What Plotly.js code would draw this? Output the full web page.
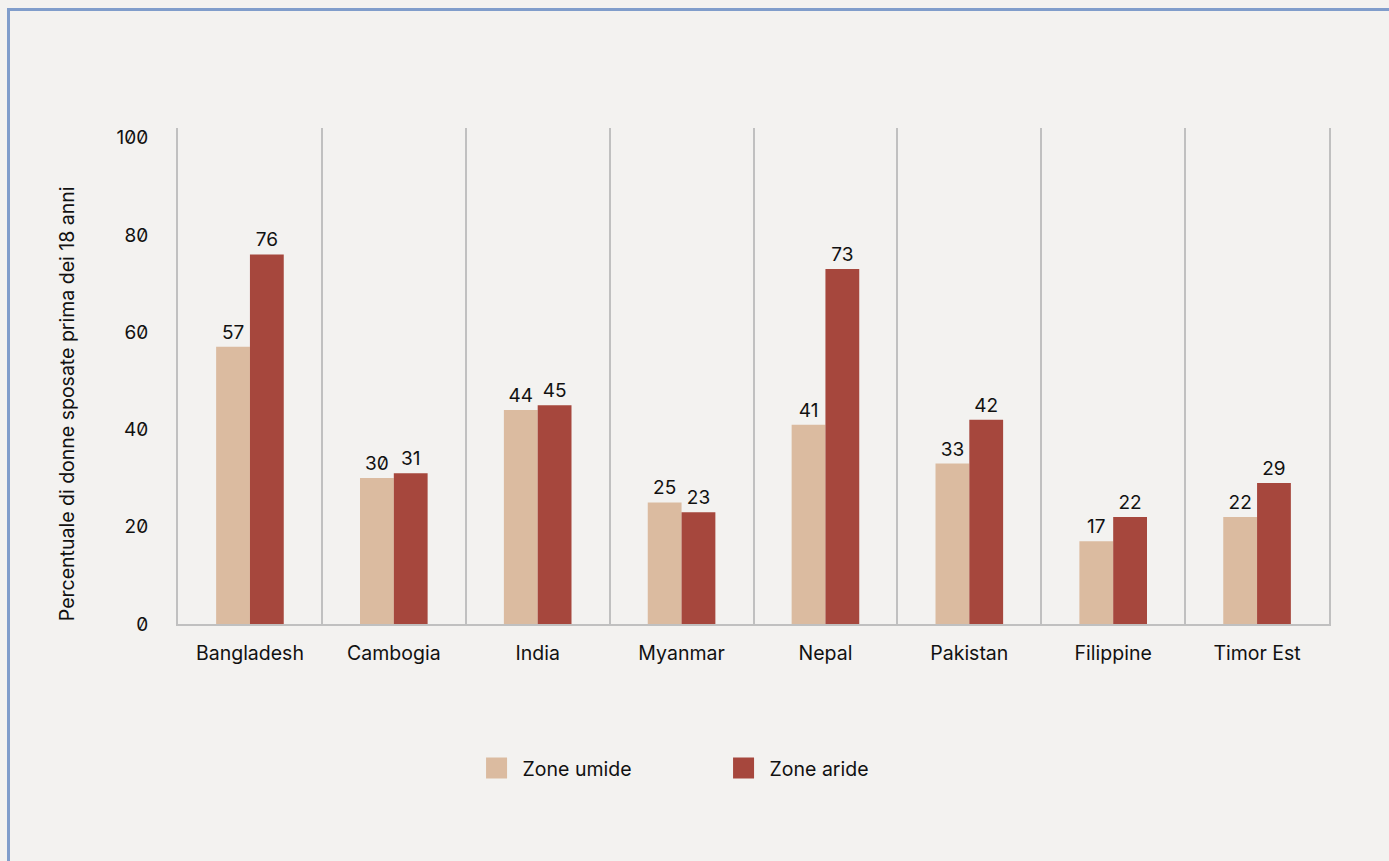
<!DOCTYPE html>
<html>
<head>
<meta charset="utf-8">
<script src="https://cdn.plot.ly/plotly-3.0.1.min.js"></script>
<style>
  html, body { margin: 0; padding: 0; background: #f3f2f0; width: 1389px; height: 861px; overflow: hidden; }
  #frame { position: absolute; left: 7px; top: 8px; width: 1400px; height: 900px; border-left: 3px solid #809dcb; border-top: 3px solid #809dcb; box-sizing: border-box; }
  #chart { position: absolute; left: 0; top: 0; width: 1389px; height: 861px; }
  #chart text { font-feature-settings: "zero" 1; }
</style>
</head>
<body>
<div id="frame"></div>
<div id="chart"></div>
<script>
const categories = ["Bangladesh", "Cambogia", "India", "Myanmar", "Nepal", "Pakistan", "Filippine", "Timor Est"];
const zoneUmide = [57, 30, 44, 25, 41, 33, 17, 22];
const zoneAride = [76, 31, 45, 23, 73, 42, 22, 29];
const seriesNames = ["Zone umide", "Zone aride"];
const yTicks = [0, 20, 40, 60, 80, 100];
const yTitle = "Percentuale di donne sposate prima dei 18 anni";

const FONT = "Inter, 'Noto Sans', sans-serif";
const gridCol = "#c0c0c0";

const traces = [
  {
    type: "bar", name: seriesNames[0], x: categories, y: zoneUmide,
    marker: { color: "#dbbba0" },
    text: zoneUmide.map(String), textposition: "outside", cliponaxis: false,
    textfont: { family: FONT, size: 19, color: "#111" }, hoverinfo: "none"
  },
  {
    type: "bar", name: seriesNames[1], x: categories, y: zoneAride,
    marker: { color: "#a6473d" },
    text: zoneAride.map(String), textposition: "outside", cliponaxis: false,
    textfont: { family: FONT, size: 19, color: "#111" }, hoverinfo: "none"
  }
];

const layout = {
  width: 1389, height: 861,
  paper_bgcolor: "rgba(0,0,0,0)", plot_bgcolor: "rgba(0,0,0,0)",
  margin: { l: 178, r: 60, t: 128, b: 237 },
  font: { family: FONT, size: 19, color: "#111" },
  barmode: "group", bargap: 0.53, bargroupgap: 0,
  showlegend: true,
  legend: {
    orientation: "h", x: 0.2646, xanchor: "left", y: -0.291, yanchor: "middle",
    entrywidth: 202, entrywidthmode: "pixels",
    font: { family: FONT, size: 19.5, color: "#111" },
    bgcolor: "rgba(0,0,0,0)"
  },
  xaxis: {
    type: "category", tickson: "boundaries", showgrid: true, gridcolor: gridCol, gridwidth: 2,
    ticks: "", showline: true, linecolor: gridCol, linewidth: 2,
    ticklabelstandoff: 11, tickfont: { family: FONT, size: 19.5, color: "#111" },
    fixedrange: true
  },
  yaxis: {
    range: [0, 102], tickvals: yTicks, ticktext: yTicks.map(String),
    showgrid: false, zeroline: false, showline: true, mirror: true, linecolor: gridCol, linewidth: 2,
    ticks: "", ticklabelstandoff: 24, tickfont: { family: FONT, size: 19, color: "#111" },
    fixedrange: true
  },
  annotations: [
    {
      text: yTitle, xref: "paper", yref: "paper", x: -0.0965, y: 0.445,
      xanchor: "center", yanchor: "middle", textangle: -90, showarrow: false,
      font: { family: FONT, size: 19.5, color: "#111" }
    }
  ]
};

Plotly.newPlot("chart", traces, layout, { displayModeBar: false, staticPlot: true }).then(function (gd) {
  document.querySelectorAll("#chart .legend .legendpoints path").forEach(function (p) {
    p.setAttribute("d", "M4.5,10.5H-16.5V-10.5H4.5Z");
  });
});
</script>
</body>
</html>
